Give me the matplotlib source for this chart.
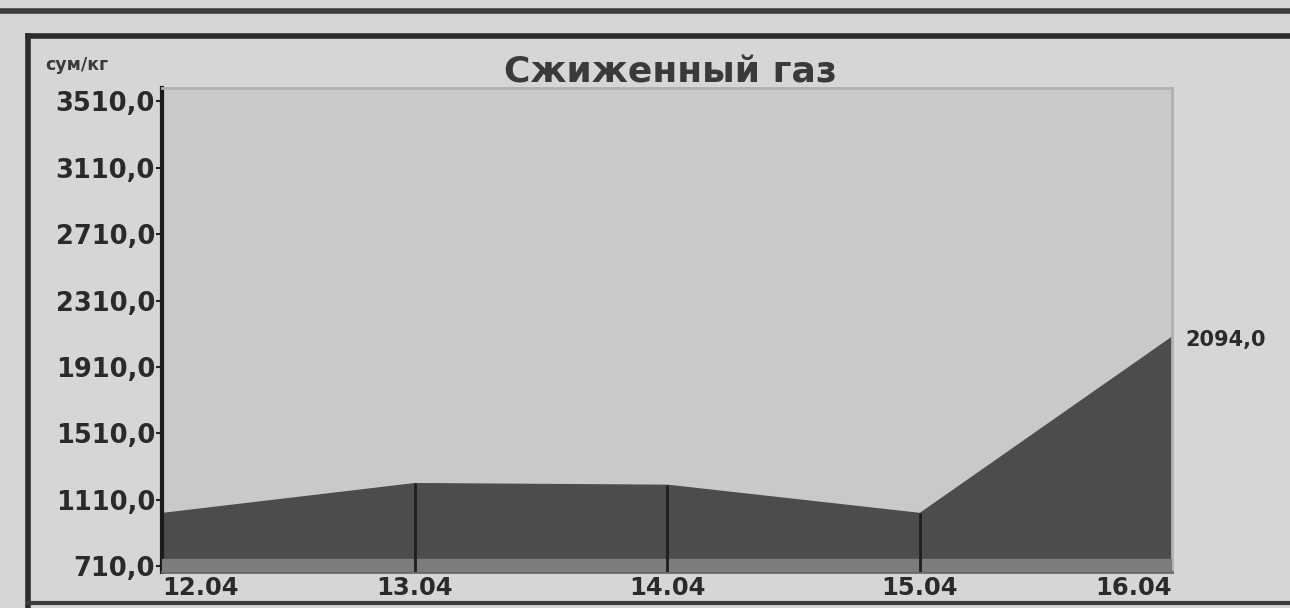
import matplotlib.pyplot as plt
from matplotlib.lines import Line2D

# данные
dates = ['12.04', '13.04', '14.04', '15.04', '16.04']
prices = [1030, 1210, 1200, 1030, 2094]
y_ticks = [710, 1110, 1510, 1910, 2310, 2710, 3110, 3510]
last_label = '2094,0'

paper = '#d6d6d6'
fig = plt.figure(figsize=(12.9, 6.08), dpi=100, facecolor=paper)
ax = fig.add_axes([0.1256, 0.059, 0.783, 0.796])
ax.set_facecolor('#c9c9c9')

x = list(range(len(dates)))
ax.fill_between(x, 674, prices, color='#4c4c4c', zorder=2)
# светлая полоса внизу
ax.axhspan(674, 755, color='#7c7c7c', zorder=3)
# вертикальные линии внутри заливки
for i in x[1:-1]:
    ax.vlines(i, 674, prices[i], color='#1e1e1e', lw=2, zorder=4)

ax.set_xlim(0, len(dates) - 1)
ax.set_ylim(674, 3590)
ax.set_yticks(y_ticks)
ax.set_yticklabels([f'{v},0' for v in y_ticks], fontsize=18.5, fontweight='bold', color='#2a2a2a')
ax.set_xticks(x)
ax.set_xticklabels(dates, fontsize=17.5, fontweight='bold', color='#2a2a2a')
tl = ax.get_xticklabels()
tl[0].set_ha('left')
tl[-1].set_ha('right')
ax.tick_params(axis='y', length=4, width=1.5, color='#222222', pad=1)
ax.tick_params(axis='x', length=0, pad=3)

ax.spines['left'].set_color('#1a1a1a')
ax.spines['left'].set_linewidth(3)
ax.spines['bottom'].set_color('#6a6a6a')
ax.spines['bottom'].set_linewidth(2)
ax.spines['top'].set_color('#b0b0b0')
ax.spines['top'].set_linewidth(2)
ax.spines['right'].set_color('#b0b0b0')
ax.spines['right'].set_linewidth(2)

ax.text(1.013, prices[-1] - 20, last_label, transform=ax.get_yaxis_transform(),
        fontsize=15, fontweight='bold', color='#2a2a2a', va='center', ha='left')

fig.text(0.52, 0.88, 'Сжиженный газ', fontsize=26, fontweight='bold',
         color='#3a3a3a', ha='center', va='center')
fig.text(0.035, 0.893, 'сум/кг', fontsize=12.5, fontweight='bold',
         color='#3a3a3a', ha='left', va='center')

# рамка как в газете
fig.add_artist(Line2D([0, 1], [0.982, 0.982], color='#3c3c3c', lw=4))
fig.add_artist(Line2D([0.022, 1], [0.94, 0.94], color='#2c2c2c', lw=4))
fig.add_artist(Line2D([0.022, 0.022], [0.0, 0.94], color='#2c2c2c', lw=4))
fig.add_artist(Line2D([0.022, 1], [0.008, 0.008], color='#3c3c3c', lw=3))

fig.savefig('out.png', dpi=100, facecolor=paper)
